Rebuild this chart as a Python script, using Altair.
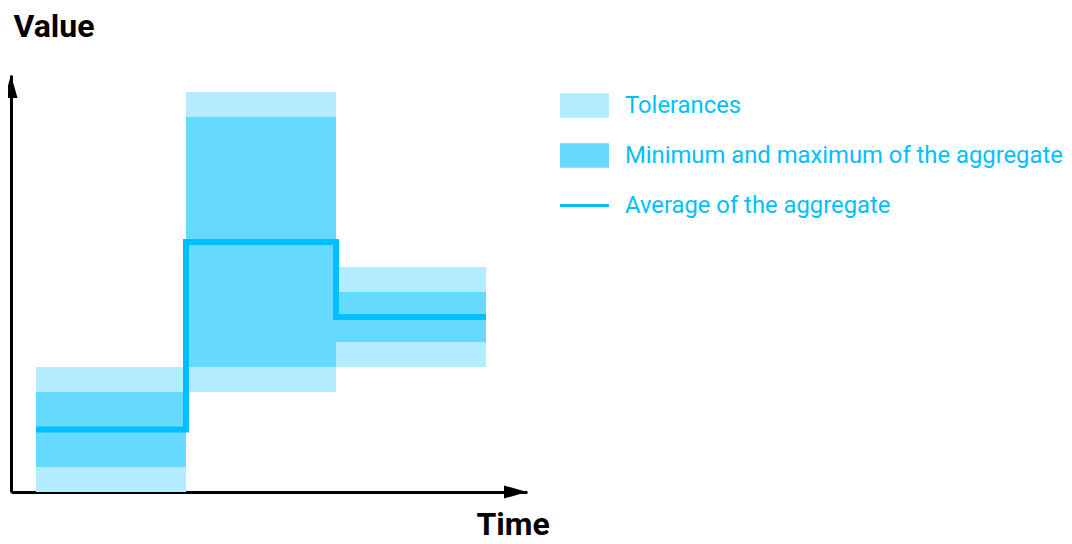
import altair as alt
import pandas as pd

# ---- data (time units / value units) ----
seg_start = [1, 7, 13]
seg_end = [7, 13, 19]
tol_low = [0, 4, 5]
tol_high = [5, 16, 9]
agg_min = [1, 5, 6]
agg_max = [4, 15, 8]
agg_avg = [2.5, 10, 7]

labels = ["Tolerances", "Minimum and maximum of the aggregate", "Average of the aggregate"]
colors = ["#B3ECFF", "#66D9FF", "#00BFFF"]

x_extent = [0, 20.64]
y_extent = [0, 16.68]

tol_df = pd.DataFrame({"t": seg_start, "t2": seg_end, "lo": tol_low, "hi": tol_high})
agg_df = pd.DataFrame({"t": seg_start, "t2": seg_end, "lo": agg_min, "hi": agg_max})
line_df = pd.DataFrame({"t": seg_start + [seg_end[-1]], "lo": agg_avg + [agg_avg[-1]]})
legend_df = pd.DataFrame({"kind": labels})
one = pd.DataFrame({"a": [0]})

W, H = 516, 417

x_axis = alt.Axis(title="Time", domain=True, domainColor="black", domainWidth=3, domainCap="butt",
                  ticks=False, labels=False, grid=False,
                  titleFont="Roboto", titleFontSize=32, titleFontWeight="bold", titleColor="black",
                  titleX=465, titleY=42, titleAlign="left", titleBaseline="alphabetic")
y_axis = alt.Axis(title="Value", domain=True, domainColor="black", domainWidth=3, domainCap="butt",
                  ticks=False, labels=False, grid=False,
                  titleFont="Roboto", titleFontSize=32, titleFontWeight="bold", titleColor="black",
                  titleAngle=0, titleX=2, titleY=-39, titleAlign="left", titleBaseline="alphabetic")
x_scale = alt.Scale(domain=x_extent, nice=False, zero=False)
y_scale = alt.Scale(domain=y_extent, nice=False, zero=False)

rect_path = "M-1,-0.5H1V0.5H-1Z"
thin_path = "M-1,-0.0612H1V0.0612H-1Z"

legend = alt.Legend(
    title=None, orient="none", legendX=549, legendY=6, direction="vertical", padding=0,
    symbolSize=2401, symbolStrokeWidth=0, symbolOpacity=1,
    labelFont="Roboto", labelFontSize=23.8, labelColor="#00BFFF", labelLimit=800,
    labelOffset=16, rowPadding=13,
)


def rects(df, col):
    return alt.Chart(df).mark_rect(opacity=1, color=col).encode(
        x=alt.X("t:Q", scale=x_scale, axis=x_axis),
        x2="t2:Q",
        y=alt.Y("lo:Q", scale=y_scale, axis=y_axis),
        y2="hi:Q",
    )


line = alt.Chart(line_df).mark_line(
    interpolate="step-after", color=colors[2], strokeWidth=6, strokeJoin="miter", strokeCap="butt"
).encode(
    x=alt.X("t:Q", scale=x_scale, axis=x_axis),
    y=alt.Y("lo:Q", scale=y_scale, axis=y_axis),
)

legend_layer = alt.Chart(legend_df).mark_point(filled=True, opacity=1, size=2401, strokeWidth=0).encode(
    x=alt.value(-3000), y=alt.value(-3000),
    color=alt.Color("kind:N", scale=alt.Scale(domain=labels, range=colors), legend=legend),
    shape=alt.Shape("kind:N", scale=alt.Scale(domain=labels, range=[rect_path, rect_path, thin_path]),
                    legend=legend),
)

up_arrow = alt.Chart(one).mark_point(
    shape="M0,0L0.283,1L-0.283,1Z", size=2116, filled=True, color="black", opacity=1, strokeWidth=0
).encode(x=alt.value(0), y=alt.value(0))
right_arrow = alt.Chart(one).mark_point(
    shape="M0,0L-1,0.283L-1,-0.283Z", size=2116, filled=True, color="black", opacity=1, strokeWidth=0
).encode(x=alt.value(W), y=alt.value(H))

chart = alt.layer(rects(tol_df, colors[0]), rects(agg_df, colors[1]), line, legend_layer,
                  up_arrow, right_arrow).properties(
    width=W, height=H,
    autosize=alt.AutoSizeParams(type="none"),
    padding={"left": 3, "top": 67, "right": 537, "bottom": 44},
).configure_view(strokeWidth=0)

chart.save("out.html", embed_options={"renderer": "svg", "actions": False})
